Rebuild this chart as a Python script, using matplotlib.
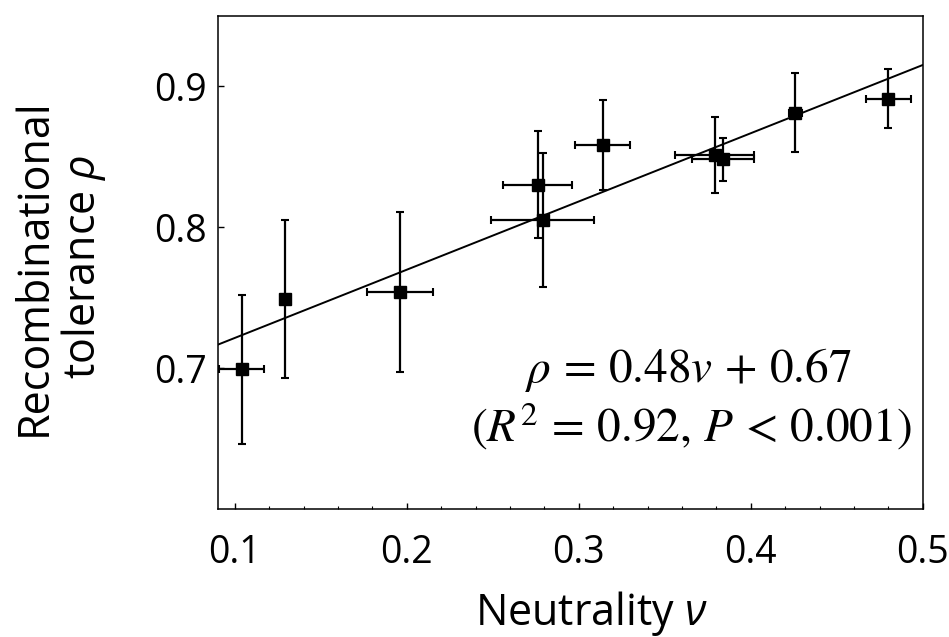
import numpy as np
import matplotlib.pyplot as plt

plt.rcParams['figure.dpi'] = 100
plt.rcParams['font.family'] = ['Open Sans', 'DejaVu Sans']
plt.rcParams['mathtext.fontset'] = 'custom'
plt.rcParams['mathtext.rm'] = 'Open Sans'
plt.rcParams['mathtext.it'] = 'Open Sans:italic'

# neutrality nu vs recombinational tolerance rho
nu = [0.104, 0.129, 0.196, 0.276, 0.279, 0.314, 0.379, 0.384, 0.426, 0.480]
rho = [0.699, 0.749, 0.754, 0.830, 0.805, 0.858, 0.851, 0.848, 0.881, 0.891]
nu_err = [0.013, 0.0, 0.019, 0.020, 0.030, 0.016, 0.023, 0.018, 0.004, 0.013]
rho_err = [0.053, 0.056, 0.057, 0.038, 0.0475, 0.032, 0.027, 0.015, 0.028, 0.021]

fit_slope = 0.484
fit_icpt = 0.673

fig = plt.figure(figsize=(9.49, 6.37))
ax = fig.add_axes([0.2294, 0.2009, 0.9723 - 0.2294, 0.9754 - 0.2009])

xl = np.array([0.09, 0.5])
ax.plot(xl, fit_slope * xl + fit_icpt, color='black', lw=1.4, zorder=1)

ax.errorbar(nu, rho, xerr=nu_err, yerr=rho_err, fmt='s', color='black',
            ms=9, elinewidth=1.6, capsize=3, capthick=1.5, zorder=3)

ax.set_xlim(0.09, 0.5)
ax.set_ylim(0.6, 0.95)
ax.set_xticks([0.1, 0.2, 0.3, 0.4, 0.5])
ax.set_xticklabels(['0.1', '0.2', '0.3', '0.4', '0.5'])
ax.set_xticks(np.arange(0.1, 0.5, 0.02), minor=True)
ax.set_yticks([0.7, 0.8, 0.9])
ax.set_yticklabels(['0.7', '0.8', '0.9'])

ax.tick_params(which='major', direction='in', length=4.5, width=1, labelsize=27)
ax.tick_params(axis='x', which='major', pad=18)
ax.tick_params(axis='y', which='major', pad=8)
ax.tick_params(which='minor', direction='in', length=2.5, width=0.8)
for s in ax.spines.values():
    s.set_linewidth(1.1)

ax.set_xlabel(r'Neutrality $\nu$', fontsize=31)
ax.xaxis.set_label_coords(0.53, -0.163)
ax.set_ylabel('Recombinational\n' + r'tolerance $\rho$', fontsize=31, linespacing=1.05)
ax.yaxis.set_label_coords(-0.156, 0.49)

ax.text(0.667, 0.258, r'$\rho\,=\,0.48v\,+\,0.67$', transform=ax.transAxes,
        ha='center', va='baseline', fontsize=34, math_fontfamily='stix')
ax.text(0.672, 0.136, r'$(R^2\,=\,0.92,\, P\,<\,0.001)$', transform=ax.transAxes,
        ha='center', va='baseline', fontsize=34, math_fontfamily='stix')

plt.savefig('out.png', dpi=100)
